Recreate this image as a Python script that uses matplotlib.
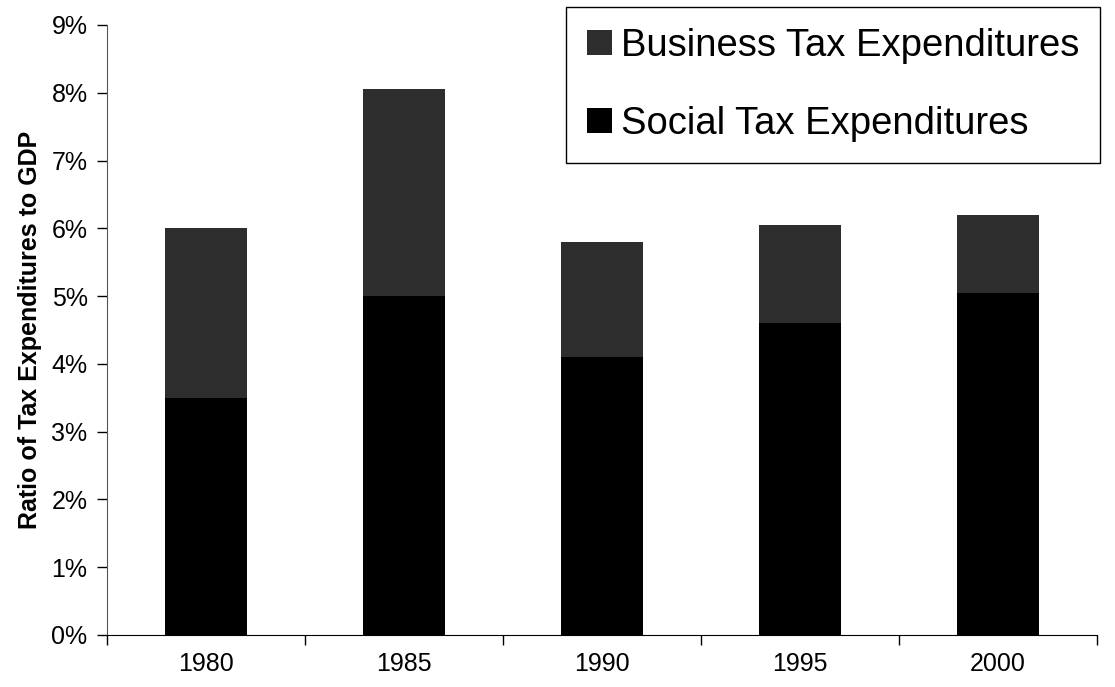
import matplotlib
matplotlib.use("Agg")
import matplotlib.pyplot as plt
import numpy as np
from matplotlib.ticker import FuncFormatter

plt.rcParams['font.family'] = ['Liberation Sans', 'DejaVu Sans']

# Data (percent of GDP)
years = ["1980", "1985", "1990", "1995", "2000"]
social = [3.5, 5.0, 4.1, 4.6, 5.05]
business = [2.5, 3.05, 1.7, 1.45, 1.15]

fig = plt.figure(figsize=(11.15, 6.87), dpi=100)
ax = fig.add_axes([107 / 1115, 52 / 687, 990 / 1115, 610 / 687])

x = np.arange(len(years))
bar_w = 0.41
b_social = ax.bar(x, social, width=bar_w, color="black", label="Social Tax Expenditures")
b_bus = ax.bar(x, business, width=bar_w, bottom=social, color="#2d2d2d",
               label="Business Tax Expenditures")

ax.set_xlim(-0.5, len(years) - 0.5)
ax.set_ylim(0, 9)
ax.set_yticks(np.arange(0, 10, 1))
ax.yaxis.set_major_formatter(FuncFormatter(lambda v, p: f"{int(v)}%"))
ax.set_xticks(x)
ax.set_xticklabels(years)
ax.set_xticks(np.arange(-0.5, len(years), 1), minor=True)

ax.tick_params(axis="x", which="major", length=0, pad=12, labelsize=18)
ax.tick_params(axis="x", which="minor", length=7, width=1, direction="out")
ax.tick_params(axis="y", length=7, width=1, direction="out", labelsize=18, pad=7)

for s in ["top", "right"]:
    ax.spines[s].set_visible(False)
ax.spines["left"].set_color("#555555")
ax.spines["bottom"].set_color("black")

ax.set_ylabel("Ratio of Tax Expenditures to GDP", fontsize=18, fontweight="bold", labelpad=7)

leg = ax.legend([b_bus, b_social], ["Business Tax Expenditures", "Social Tax Expenditures"],
                loc="upper right", bbox_to_anchor=(1100 / 1115, 1 - 7 / 687),
                bbox_transform=fig.transFigure, borderaxespad=0, fontsize=27.5,
                frameon=True, fancybox=False, shadow=False, handlelength=0.65,
                handleheight=0.65, handletextpad=0.22, labelspacing=1.1,
                borderpad=0.55)
leg.get_frame().set_edgecolor("black")
leg.get_frame().set_linewidth(1)
leg.get_frame().set_alpha(1)

fig.savefig("out.png", dpi=100)
